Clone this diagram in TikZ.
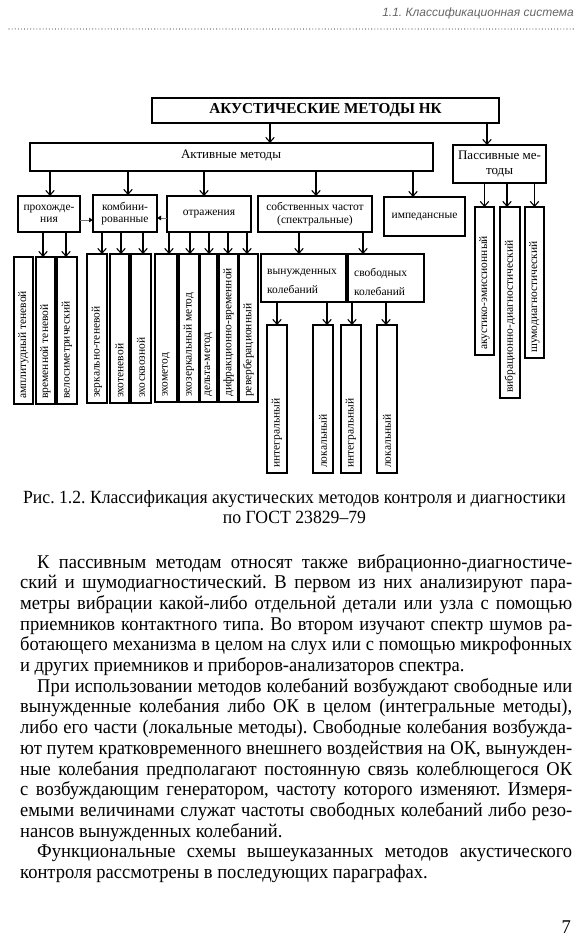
\documentclass[tikz,border=0pt]{standalone}
\usepackage{fontspec}
\setmainfont{Liberation Serif}
\newfontfamily\hdrfont{Liberation Sans}
\newfontfamily\bodyfont[FakeStretch=0.95]{Liberation Serif}
\usetikzlibrary{arrows.meta}
\frenchspacing
\newcommand\leaf[6]{%
  \node[box, minimum width={#3-#2}, minimum height={#5-#4}] (#1) at ({(#2+#3)/2},{(#4+#5)/2}) {};
  \node[vtext] (#1t) at ({(#2+#3)/2},{#5-5}) {#6};}
\newcommand\jl[1]{\makebox[552pt][s]{#1}}
\newcommand\ji[1]{\makebox[535pt][s]{#1}}
\begin{document}
\begin{tikzpicture}[x=1pt,y=-1pt,
  box/.style={draw, line width=1.1pt, outer sep=0pt, inner sep=0pt, align=center},
  arr/.style={line width=1.1pt, -{Straight Barb[length=4.8pt,width=8.5pt,line width=1.1pt]}},
  harr/.style={line width=0.5pt, draw=black!55, -{Triangle[length=4pt,width=4.5pt,fill=black,color=black]}},
  small/.style={font=\fontsize{11.5}{12.5}\selectfont},
  vtext/.style={font=\fontsize{11.5}{13}\selectfont, rotate=90, anchor=west, inner sep=0pt},
  bl/.style={anchor=base west, inner sep=0pt, font=\bodyfont\frenchspacing\fontsize{19.5}{20.7}\selectfont},
  captext/.style={anchor=base, inner sep=0pt, font=\bodyfont\fontsize{18.6}{20}\selectfont},
]
\useasboundingbox (0,0) rectangle (585,944);
\fill[white] (0,0) rectangle (585,944);

% header
\node[anchor=base east, inner sep=0pt, font=\hdrfont\itshape\fontsize{12}{14}\selectfont, text=black!60] (hdr) at (574,17) {1.1. Классификационная система};
\coordinate (dl) at (9,29);
\coordinate (dr) at (574,29);
\draw[black!75, line width=1.1pt, line cap=round, dash pattern=on 0pt off 3.1pt] (dl) -- (dr);

% top level
\node[box, minimum width=347, minimum height=25, font=\bfseries\fontsize{15.2}{17}\selectfont] (top) at (325.5,110.5) {АКУСТИЧЕСКИЕ МЕТОДЫ НК};
\node[box, minimum width=403, minimum height=28] (act) at (231.5,157) {};
\node[font=\fontsize{13}{14}\selectfont, inner sep=0pt] (actt) at (231,155) {Активные методы};
\node[box, minimum width=93, minimum height=38, font=\fontsize{13}{14.5}\selectfont] (pas) at (499.5,164) {Пассивные ме-\\тоды};

\draw[arr] ([xshift=-55.5pt]top.south) -- ([xshift=-55.5pt]top.south |- act.north);
\draw[arr] ([xshift=-12.5pt]pas.north |- top.south) -- ([xshift=-12.5pt]pas.north);

% second level
\node[box, small, minimum width=62, minimum height=36] (proh) at (49,214) {прохожде-\\ния};
\node[box, small, minimum width=64, minimum height=37] (komb) at (125,213.5) {комбини-\\рованные};
\node[box, small, minimum width=84, minimum height=36] (otr) at (209,214) {отражения};
\node[box, small, minimum width=114, minimum height=36] (sob) at (315,214) {собственных частот\\(спектральные)};
\node[box, small, minimum width=81, minimum height=39] (imp) at (424.5,216.5) {импедансные};

\draw[arr] ([xshift=1pt]proh.north |- act.south) -- ([xshift=1pt]proh.north);
\draw[arr] ([xshift=3pt]komb.north |- act.south) -- ([xshift=3pt]komb.north);
\draw[arr] ([xshift=-5pt]otr.north |- act.south) -- ([xshift=-5pt]otr.north);
\draw[arr] ([xshift=1pt]sob.north |- act.south) -- ([xshift=1pt]sob.north);
\draw[arr] ([xshift=-11.5pt]imp.north |- act.south) -- ([xshift=-11.5pt]imp.north);

\draw[harr] ([yshift=-6pt]proh.east) -- ([yshift=-6pt]proh.east -| komb.west);
\draw[harr] ([yshift=-4pt]otr.west) -- ([yshift=-4pt]otr.west -| komb.east);

% leaves
\leaf{L1}{14}{33}{257}{404}{амплитудный теневой}
\leaf{L2}{36}{55}{257}{404}{временной теневой}
\leaf{L3}{57}{77}{257}{404}{велосиметрический}
\leaf{K1}{87}{107}{254}{403}{зеркально-теневой}
\leaf{K2}{110}{129}{254}{403}{эхотеневой}
\leaf{K3}{131}{151}{254}{403}{эхосквозной}
\leaf{O1}{155}{177}{254}{402}{эхометод}
\leaf{O2}{179}{199}{254}{402}{эхозеркальный метод}
\leaf{O3}{200}{217}{254}{402}{дельта-метод}
\leaf{O4}{219}{238}{254}{402}{дифракционно-временной}
\leaf{O5}{239}{258}{254}{402}{реверберационный}

\draw[arr] ([xshift=-2.5pt]L2.north |- proh.south) -- ([xshift=-2.5pt]L2.north);
\draw[arr] ([xshift=-1pt]L3.north |- proh.south) -- ([xshift=-1pt]L3.north);
\draw[arr] ([xshift=5pt]K1.north |- komb.south) -- ([xshift=5pt]K1.north);
\draw[arr] ([xshift=1.5pt]K2.north |- komb.south) -- ([xshift=1.5pt]K2.north);
\draw[arr] ([xshift=2pt]K3.north |- komb.south) -- ([xshift=2pt]K3.north);
\draw[arr] ([xshift=3pt]O1.north |- otr.south) -- ([xshift=3pt]O1.north);
\draw[arr] ([xshift=1pt]O2.north |- otr.south) -- ([xshift=1pt]O2.north);
\draw[arr] ([xshift=0.5pt]O3.north |- otr.south) -- ([xshift=0.5pt]O3.north);
\draw[arr] ([xshift=-0.5pt]O4.north |- otr.south) -- ([xshift=-0.5pt]O4.north);
\draw[arr] ([xshift=-1.5pt]O5.north |- otr.south) -- ([xshift=-1.5pt]O5.north);

% spectral branch
\node[box, minimum width=85, minimum height=48] (vyn) at (303.5,278) {};
\node[small, align=left, anchor=west, inner sep=0pt, font=\fontsize{11.5}{19}\selectfont] (vynt) at ([xshift=6pt,yshift=-3.5pt]vyn.west) {вынужденных\\колебаний};
\node[box, minimum width=76, minimum height=48] (svo) at (386,278) {};
\node[small, align=left, anchor=west, inner sep=0pt, font=\fontsize{11.5}{19}\selectfont] (svot) at ([xshift=6pt,yshift=-3.5pt]svo.west) {свободных\\колебаний};
\draw[arr] ([xshift=-4.5pt]vyn.north |- sob.south) -- ([xshift=-4.5pt]vyn.north);
\draw[arr] ([xshift=-23pt]svo.north |- sob.south) -- ([xshift=-23pt]svo.north);

\leaf{I1}{267}{287}{325}{473}{интегральный}
\leaf{Lo1}{313}{333}{325}{473}{локальный}
\leaf{I2}{341}{361}{325}{473}{интегральный}
\leaf{Lo2}{377}{397}{325}{473}{локальный}
\draw[arr] (I1.north |- vyn.south) -- (I1.north);
\draw[arr] ([xshift=4pt]Lo1.north |- vyn.south) -- ([xshift=4pt]Lo1.north);
\draw[arr] ([xshift=1pt]I2.north |- svo.south) -- ([xshift=1pt]I2.north);
\draw[arr] ([xshift=-1pt]Lo2.north |- svo.south) -- ([xshift=-1pt]Lo2.north);

% passive leaves
\leaf{P1}{475}{494}{207}{355}{акустико-эмиссионный}
\leaf{P2}{500}{520}{207}{398}{вибрационно-диагностический}
\leaf{P3}{525}{544}{207}{358}{шумодиагностический}
\draw[arr] (P1.north |- pas.south) -- (P1.north);
\draw[arr] ([xshift=-3pt]P2.north |- pas.south) -- ([xshift=-3pt]P2.north);
\draw[arr] (P3.north |- pas.south) -- (P3.north);

% caption
\node[captext] (c1) at (294.5,503) {Рис. 1.2. Классификация акустических методов контроля и диагностики};
\node[captext] (c2) at (294.5,523) {по ГОСТ 23829–79};

% body text
\node[bl] (t1) at (37,568) {\ji{К пассивным методам относят также вибрационно-диагностиче-}};
\node[bl] (t2) at (20,588.7) {\jl{ский и шумодиагностический. В первом из них анализируют пара-}};
\node[bl] (t3) at (20,609.4) {\jl{метры вибрации какой-либо отдельной детали или узла с помощью}};
\node[bl] (t4) at (20,630.1) {\jl{приемников контактного типа. Во втором изучают спектр шумов ра-}};
\node[bl] (t5) at (20,650.8) {\jl{ботающего механизма в целом на слух или с помощью микрофонных}};
\node[bl] (t6) at (20,671.5) {и других приемников и приборов-анализаторов спектра.};
\node[bl] (t7) at (37,692.2) {\ji{При использовании методов колебаний возбуждают свободные или}};
\node[bl] (t8) at (20,712.9) {\jl{вынужденные колебания либо ОК в целом (интегральные методы),}};
\node[bl] (t9) at (20,733.6) {\jl{либо его части (локальные методы). Свободные колебания возбужда-}};
\node[bl] (t10) at (20,754.3) {\jl{ют путем кратковременного внешнего воздействия на ОК, вынужден-}};
\node[bl] (t11) at (20,775.0) {\jl{ные колебания предполагают постоянную связь колеблющегося ОК}};
\node[bl] (t12) at (20,795.7) {\jl{с возбуждающим генератором, частоту которого изменяют. Измеря-}};
\node[bl] (t13) at (20,816.4) {\jl{емыми величинами служат частоты свободных колебаний либо резо-}};
\node[bl] (t14) at (20,837.1) {нансов вынужденных колебаний.};
\node[bl] (t15) at (37,857.8) {\ji{Функциональные схемы вышеуказанных методов акустического}};
\node[bl] (t16) at (20,878.5) {контроля рассмотрены в последующих параграфах.};

\node[anchor=base east, inner sep=0pt, font=\bodyfont\fontsize{19.5}{20.7}\selectfont] (pg) at (571,933) {7};
\end{tikzpicture}
\end{document}
